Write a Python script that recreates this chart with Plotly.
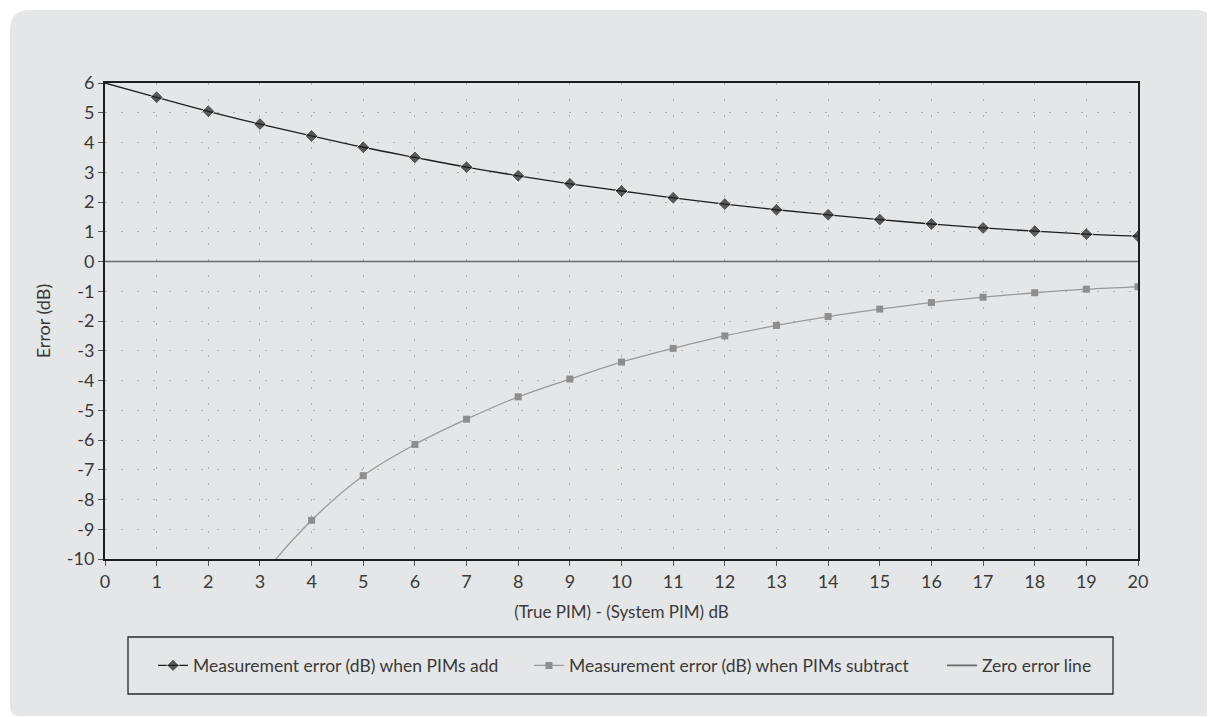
import plotly.graph_objects as go

# ---- data ----
x_add = [0, 1, 2, 3, 4, 5, 6, 7, 8, 9, 10, 11, 12, 13, 14, 15, 16, 17, 18, 19, 20]
y_add = [6.0, 5.52, 5.05, 4.62, 4.22, 3.84, 3.5, 3.17, 2.88, 2.61, 2.37, 2.14, 1.93, 1.74, 1.57, 1.41, 1.26, 1.13, 1.02, 0.92, 0.85]
x_sub = [2, 3, 4, 5, 6, 7, 8, 9, 10, 11, 12, 13, 14, 15, 16, 17, 18, 19, 20]
y_sub = [-13.7, -10.7, -8.7, -7.2, -6.15, -5.3, -4.55, -3.95, -3.38, -2.92, -2.5, -2.15, -1.85, -1.6, -1.38, -1.2, -1.05, -0.93, -0.85]
x_zero = [0, 20]
y_zero = [0, 0]

x_ticks = list(range(0, 21))
y_ticks = [6, 5, 4, 3, 2, 1, 0, -1, -2, -3, -4, -5, -6, -7, -8, -9, -10]
y_ticklabels = ["6", "5", "4", "3", "2", "1", "0", "-1", "-2", "-3", "-4", "-5", "-6", "-7", "-8", "-9", "-10"]

names = ["Measurement error (dB) when PIMs add",
         "Measurement error (dB) when PIMs subtract",
         "Zero error line"]

# page body has an 8px margin; figure is sized so it ends at the window edge
OFF = 8
W, H = 1215 - OFF, 717 - OFF
# plot area in page pixels
PL, PR, PT, PB = 105, 1138, 83, 559
ML, MT = PL - OFF, PT - OFF
MR, MB = W - (PR - OFF), H - (PB - OFF)
PW, PH = PR - PL, PB - PT


def px(xp):
    return (xp - PL) / PW


def py(yp):
    return (PB - yp) / PH


FONT = "Lato"
TXT = "#3a3a3a"

fig = go.Figure()

fig.add_trace(go.Scatter(
    x=x_zero, y=y_zero, mode="lines", name=names[2],
    line=dict(color="#6a6a6a", width=1.6), legend="legend3", showlegend=True))

fig.add_trace(go.Scatter(
    x=x_sub, y=y_sub, mode="lines+markers", name=names[1],
    line=dict(color="#9a9a9a", width=1.3, shape="spline"),
    marker=dict(symbol="square", size=7, color="#8e8e8e"),
    legend="legend2", showlegend=True))

fig.add_trace(go.Scatter(
    x=x_add, y=y_add, mode="lines+markers", name=names[0],
    line=dict(color="#1e1e1e", width=1.3, shape="spline"),
    marker=dict(symbol="diamond", size=[0] + [10] * (len(x_add) - 1), color="#1e1e1e"),
    legend="legend", showlegend=True))

# rounded panel (page pixels)
x0, y0, x1, y1 = 10, 10, 1215, 716
r = 20
rb = 10
path = (f"M {px(x0 + r)},{py(y0)} L {px(x1 - r)},{py(y0)} "
        f"Q {px(x1)},{py(y0)} {px(x1)},{py(y0 + r)} "
        f"L {px(x1)},{py(y1)} L {px(x0 + rb)},{py(y1)} "
        f"Q {px(x0)},{py(y1)} {px(x0)},{py(y1 - rb)} "
        f"L {px(x0)},{py(y0 + r)} Q {px(x0)},{py(y0)} {px(x0 + r)},{py(y0)} Z")

shapes = [
    dict(type="path", path=path, xref="paper", yref="paper", layer="below",
         fillcolor="#e5e6e8", line=dict(width=0)),
    dict(type="rect", xref="paper", yref="paper", x0=px(128), x1=px(1113),
         y0=py(637), y1=py(694), line=dict(color="#2a2a2a", width=1.3),
         fillcolor="rgba(0,0,0,0)", layer="above"),
]

leg_common = dict(orientation="h", yanchor="middle", xanchor="left",
                  bgcolor="rgba(0,0,0,0)", borderwidth=0,
                  font=dict(family=FONT, size=17.5, color=TXT),
                  itemwidth=30)
ly = py(665.5)

fig.update_layout(
    width=W, height=H,
    margin=dict(l=ML, r=MR, t=MT, b=MB),
    paper_bgcolor="white",
    plot_bgcolor="rgba(0,0,0,0)",
    font=dict(family=FONT, size=16, color=TXT),
    showlegend=True,
    shapes=shapes,
    legend=dict(x=px(153), y=ly, **leg_common),
    legend2=dict(x=px(529), y=ly, **leg_common),
    legend3=dict(x=px(942), y=ly, **leg_common),
    xaxis=dict(
        range=[0, 20], tickvals=x_ticks, ticktext=[str(v) for v in x_ticks],
        showline=True, linecolor="#1e1e1e", linewidth=2, mirror=True,
        ticks="outside", ticklen=5, tickcolor="#555", tickwidth=1,
        showgrid=True, gridcolor="#b0b0b0", griddash="2px,14px", gridwidth=1,
        zeroline=False,
        tickfont=dict(family=FONT, size=18, color=TXT),
        title=dict(text="(True PIM) - (System PIM) dB",
                   font=dict(family=FONT, size=17, color=TXT), standoff=16),
    ),
    yaxis=dict(
        range=[-10, 6], tickvals=y_ticks, ticktext=y_ticklabels,
        showline=True, linecolor="#1e1e1e", linewidth=2, mirror=True,
        ticks="outside", ticklen=5, tickcolor="#555", tickwidth=1,
        showgrid=True, gridcolor="#b0b0b0", griddash="2px,14px", gridwidth=1,
        zeroline=False,
        tickfont=dict(family=FONT, size=18, color=TXT),
        title=dict(text="Error (dB)",
                   font=dict(family=FONT, size=18, color=TXT), standoff=12),
    ),
)

fig.write_html("out.html")
